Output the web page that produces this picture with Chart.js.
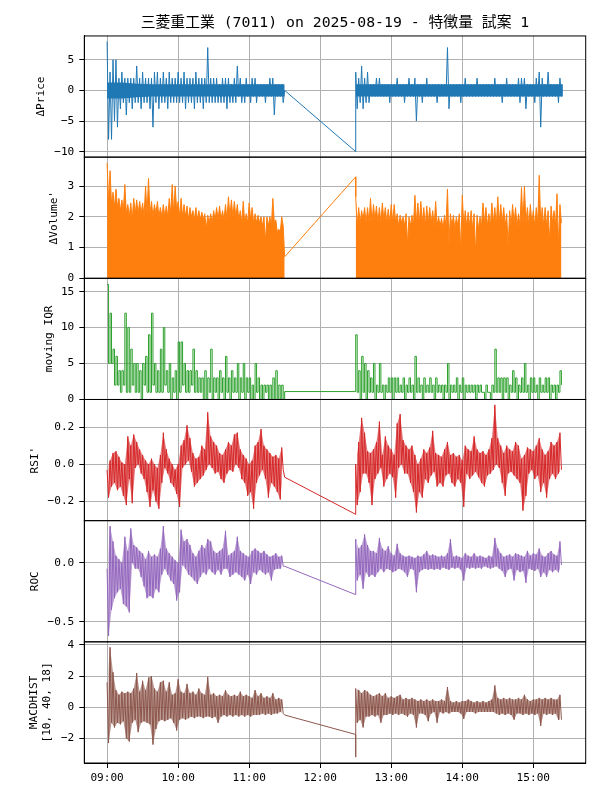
<!DOCTYPE html>
<html>
<head>
<meta charset="utf-8">
<script src="https://cdn.jsdelivr.net/npm/chart.js@4.4.1/dist/chart.umd.min.js"></script>
<style>body{margin:0;background:#fff}</style>
</head>
<body>
<canvas id="chart" width="600" height="800"></canvas>
<script>
// sessions and x tick labels
const xTickLabels = ['09:00', '10:00', '11:00', '12:00', '13:00', '14:00', '15:00'];
const sessionTimes = ['09:00', '11:30', '12:30', '15:25'];
const BIN = 2.5;        // minutes per bin, each bin gives a high and a low reading
const CORE_STEP = 12.5; // minutes between readings of the solid core of the price trace

// ΔPrice
const priceAmHi = [8,3,5,5,2,3,2,2,2,2, 4,2,3,2,2,2,3,3,2,3, 2,3,2,2,3,2,3,2,2,2, 3,2,2,2,7,2,2,2,1,2, 2,2,1,2,4,2,1,2,1,2, 2,1,1,1,1,2,2,1,1,1];
const priceAmLo = [-8,-8,-5,-6,-3,-2,-4,-2,-3,-2, -2,-3,-2,-2,-3,-6,-2,-3,-2,-2, -3,-2,-2,-2,-2,-2,-3,-2,-2,-3, -2,-2,-3,-2,-2,-2,-2,-2,-2,-2, -3,-2,-2,-2,-1,-2,-2,-1,-2,-1, -2,-1,-1,-2,-1,-1,-4,-1,-1,-2];
const priceGap = [0, -10];
const pricePmHi = [3,2,4,2,3,1,1,2,2,1, 1,1,1,1,2,1,1,1,2,1, 2,1,1,1,2,1,1,1,1,1, 1,7,1,1,1,1,1,2,1,1, 1,2,1,1,1,1,1,2,1,1, 1,2,1,1,1,2,2,2,1,1, 1,2,3,2,1,3,1,1,1,2];
const pricePmLo = [-3,-2,-3,-2,-2,-1,-1,-1,-1,-1, -1,-2,-1,-1,-1,-1,-2,-1,-1,-1, -5,-1,-2,-1,-1,-1,-1,-2,-1,-1, -1,-3,-1,-1,-1,-2,-1,-1,-1,-1, -1,-1,-1,-1,-1,-1,-1,-1,-1,-2, -1,-1,-1,-1,-1,-2,-1,-3,-1,-1, -2,-1,-6,-1,-1,-1,-1,-1,-2,-1];
const priceCoreAmHi = [1.3,1.3,1.1,1,1,1,1,1,1,1,1,1,1];
const priceCoreAmLo = [-1.3,-1.3,-1.1,-1,-1,-1,-1,-1,-1,-1,-1,-1,-1];
const priceCorePmHi = [1,1,1,1,1,1,1,1,1,1,1,1,1,1,1];
const priceCorePmLo = [-1,-1,-1,-1,-1,-1,-1,-1,-1,-1,-1,-1,-1,-1,-1];

// ΔVolume'
const volAmHi = [3.75,3.5,2.8,2.9,2.6,2.55,3.05,2.4,2.45,2.6, 2.55,2.5,2.45,3.0,3.25,2.5,2.4,2.5,2.3,2.4, 2.35,2.6,3.05,3.0,2.5,2.6,2.4,2.35,2.3,2.2, 2.3,2.2,2.15,2.1,2.05,2.1,2.2,2.3,2.35,2.2, 2.4,2.65,2.55,2.5,2.4,2.2,2.5,2.1,2.45,2.3, 2.1,2.05,2.0,2.0,2.0,2.0,2.6,1.9,1.6,2.0];
const volAmLo = [2.5,2.4,2.3,2.3,2.2,2.2,2.1,2.0,1.9,2.1, 2.1,2.1,2.0,2.1,2.1,2.0,2.1,2.0,2.0,2.0, 2.0,2.1,2.1,2.2,2.0,2.0,2.0,1.9,2.0,1.9, 1.9,1.9,1.9,1.6,1.8,1.8,1.9,1.9,1.9,1.9, 1.9,2.0,2.0,2.0,1.9,1.8,1.8,1.8,1.9,1.8, 1.8,1.8,1.7,1.2,1.7,1.7,1.8,1.5,1.5,1.7];
const volGap = [0.7, 3.3];
const volPmHi = [2.65,2.3,2.2,2.3,2.3,2.6,2.4,2.35,2.3,2.45, 2.3,2.25,2.4,2.4,2.1,2.05,2.0,2.1,2.0,2.05, 2.7,2.45,2.5,2.3,2.35,2.3,2.2,2.5,2.0,1.95, 2.05,2.9,2.1,2.05,2.0,2.1,2.7,2.2,2.15,2.2, 2.1,2.05,2.0,2.45,2.3,2.1,2.45,2.3,2.65,2.4, 2.3,2.1,2.2,2.4,2.3,2.1,2.95,3.0,2.3,2.4, 2.2,2.3,3.35,2.3,2.3,2.2,2.35,2.2,2.75,2.4];
const volPmLo = [1.7,1.8,1.9,1.8,1.8,1.8,1.9,1.8,1.8,1.9, 1.8,1.8,1.8,1.8,1.7,1.8,1.7,1.1,1.7,1.7, 1.8,1.8,1.8,1.7,1.8,1.8,1.7,1.7,1.7,1.6, 1.7,1.1,1.7,1.6,1.7,0.85,1.7,1.7,1.7,1.6, 0.8,1.6,1.7,1.8,1.7,1.7,1.8,1.7,1.8,1.8, 1.7,1.0,1.7,1.8,1.7,1.7,1.8,1.8,1.7,1.8, 1.7,1.8,1.8,1.7,1.7,1.2,1.8,1.7,1.1,1.8];

// moving IQR
const iqrAmHi = [16,12,7,6,4,4,12,10,7,5, 5,4,5,6,9,12,5,4,7,10, 4,5,3,4,8,8,5,4,4,7, 4,3,3,4,3,7,3,3,4,3, 6,3,4,3,5,3,5,3,3,2, 5,3,2,2,2,2,3,4,2,2];
const iqrAmLo = [5,5,2,2,1,2,1,1,2,1, 1,0,2,1,1,2,1,1,1,2, 1,0,1,0,1,2,1,1,2,1, 1,1,0,0,1,0,1,0,1,0, 1,0,1,1,0,1,0,1,0,0, 1,0,0,1,0,0,0,0,0,0];
const iqrGap = [1.1, 1.1];
const iqrPmHi = [9,4,6,5,4,3,5,2,5,2, 2,3,3,3,3,2,3,2,3,2, 6,3,2,3,2,3,2,3,2,2, 2,5,2,2,3,2,3,2,2,2, 2,2,2,1,2,1,2,7,3,3, 3,3,2,4,3,2,3,5,2,3, 3,2,3,2,3,3,2,2,2,4];
const iqrPmLo = [1,0,1,0,1,1,0,1,1,0, 1,1,0,1,1,1,0,1,1,0, 1,1,0,1,1,1,0,1,1,0, 1,0,1,1,0,1,0,1,1,1, 0,1,1,0,1,0,1,1,1,0, 1,0,1,1,0,1,1,1,0,1, 1,0,1,1,1,0,1,0,1,2];

// RSI'
const rsiAmHi = [-0.03,0.02,0.06,0.07,0.04,0.01,0.0,0.15,0.1,0.16, 0.12,0.08,0.05,0.02,0.0,0.03,0.0,-0.02,0.05,0.17, 0.08,0.03,0.0,-0.03,0.0,0.1,0.13,0.21,0.14,0.06, 0.03,0.04,0.1,0.08,0.28,0.15,0.12,0.1,0.06,0.05, 0.08,0.12,0.1,0.16,0.17,0.08,0.05,0.03,0.0,0.02, 0.1,0.12,0.19,0.1,0.08,0.06,0.04,0.05,0.03,0.09];
const rsiAmLo = [-0.18,-0.12,-0.1,-0.14,-0.12,-0.17,-0.22,-0.08,-0.21,-0.02, 0.0,-0.05,-0.08,-0.15,-0.23,-0.14,-0.2,-0.24,-0.1,-0.02, -0.05,-0.1,-0.12,-0.16,-0.23,-0.02,0.0,0.02,-0.04,-0.12, -0.1,-0.08,-0.06,-0.03,0.0,-0.02,-0.05,-0.04,-0.08,-0.1, -0.05,-0.03,-0.04,0.0,-0.02,-0.08,-0.1,-0.17,-0.15,-0.24, -0.1,-0.06,-0.03,-0.08,-0.18,-0.1,-0.12,-0.15,-0.19,-0.03];
const rsiGap = [-0.07, -0.27];
const rsiPmHi = [0.0,0.12,0.25,0.17,0.07,0.06,0.08,0.12,0.23,0.05, 0.15,0.1,0.08,0.05,0.22,0.27,0.13,0.1,0.08,0.1, 0.05,0.0,0.03,0.08,0.06,0.09,0.18,0.06,0.05,0.04, 0.08,0.12,0.05,0.06,0.04,0.05,0.02,0.1,0.08,0.07, 0.15,0.08,0.06,0.07,0.05,0.08,0.14,0.32,0.14,0.1, 0.06,0.1,0.08,0.07,0.12,0.1,0.03,0.05,0.09,0.08, 0.07,0.1,0.14,0.08,0.05,0.07,0.12,0.1,0.12,0.17];
const rsiPmLo = [-0.22,-0.15,-0.05,-0.05,-0.1,-0.22,-0.08,-0.05,-0.02,-0.12, -0.08,-0.05,-0.07,-0.18,-0.02,0.0,-0.05,-0.05,-0.1,-0.15, -0.26,-0.15,-0.18,-0.08,-0.1,-0.06,-0.04,-0.12,-0.1,-0.12, -0.06,-0.05,-0.1,-0.12,-0.08,-0.1,-0.23,-0.05,-0.08,-0.06, -0.04,-0.07,-0.1,-0.12,-0.06,-0.05,-0.03,0.0,-0.02,-0.1, -0.17,-0.05,-0.04,-0.06,-0.08,-0.1,-0.25,-0.17,-0.05,-0.03, -0.08,-0.06,-0.15,-0.1,-0.18,-0.08,-0.05,-0.08,-0.05,-0.03];

// ROC
const rocAmHi = [-0.05,0.31,0.18,0.06,0.03,0.0,0.22,0.1,0.29,0.15, 0.13,0.1,0.08,0.03,0.1,0.05,0.07,0.05,0.12,0.31, 0.12,0.08,0.05,0.02,0.0,0.28,0.18,0.2,0.15,0.08, 0.05,0.1,0.15,0.12,0.2,0.18,0.1,0.08,0.1,0.12, 0.27,0.06,0.08,0.1,0.22,0.1,0.08,0.06,0.05,0.1, 0.12,0.1,0.08,0.1,0.07,0.05,0.06,0.08,0.05,0.06];
const rocAmLo = [-0.62,-0.4,-0.3,-0.25,-0.22,-0.35,-0.37,-0.42,0.0,-0.05, -0.05,-0.12,-0.2,-0.3,-0.28,-0.3,-0.22,-0.25,-0.1,-0.05, -0.1,-0.15,-0.18,-0.32,-0.25,-0.02,-0.05,-0.1,-0.12,-0.15, -0.18,-0.12,-0.08,-0.1,-0.05,-0.08,-0.1,-0.06,-0.1,-0.05, -0.05,-0.12,-0.1,-0.08,-0.1,-0.12,-0.15,-0.1,-0.18,-0.08, -0.1,-0.06,-0.08,-0.1,-0.08,-0.15,-0.06,-0.05,-0.05,-0.03];
const rocGap = [-0.03, -0.27];
const rocPmHi = [0.2,0.12,0.15,0.24,0.15,0.1,0.1,0.08,0.21,0.12, 0.1,0.14,0.08,0.06,0.16,0.08,0.06,0.05,0.06,0.05, 0.04,0.06,0.05,0.07,0.1,0.06,0.07,0.06,0.05,0.06, 0.05,0.08,0.2,0.05,0.06,0.05,0.04,0.08,0.06,0.05, 0.08,0.05,0.06,0.05,0.04,0.06,0.05,0.21,0.12,0.08, 0.05,0.06,0.07,0.05,0.08,0.07,0.06,0.05,0.1,0.06, 0.08,0.07,0.12,0.06,0.05,0.08,0.1,0.07,0.06,0.18];
const rocPmLo = [-0.15,-0.1,-0.22,-0.08,-0.12,-0.1,-0.12,-0.08,-0.05,-0.08, -0.05,-0.06,-0.08,-0.07,-0.05,-0.06,-0.08,-0.12,-0.05,-0.06, -0.25,-0.08,-0.06,-0.05,-0.06,-0.05,-0.06,-0.05,-0.06,-0.04, -0.05,-0.06,-0.04,-0.05,-0.04,-0.06,-0.15,-0.04,-0.05,-0.04, -0.05,-0.04,-0.05,-0.03,-0.04,-0.05,-0.04,-0.03,-0.05,-0.07, -0.12,-0.06,-0.05,-0.15,-0.06,-0.08,-0.07,-0.17,-0.05,-0.06, -0.07,-0.05,-0.12,-0.08,-0.12,-0.06,-0.08,-0.06,-0.08,-0.02];

// MACDHIST [10, 40, 18]
const macdAmHi = [1.6,3.85,2.25,1.1,0.8,1.0,0.9,1.0,0.9,1.2, 2.2,1.0,1.7,1.1,1.9,2.0,1.2,1.0,1.6,1.7, 1.0,1.6,0.8,0.9,1.8,1.0,0.9,1.5,0.9,1.0, 0.8,1.2,0.9,0.8,1.95,0.8,0.9,0.7,0.8,0.7, 1.1,0.8,0.7,0.8,0.7,1.0,0.7,0.8,0.7,0.6, 1.1,0.7,0.9,0.6,0.7,0.6,0.9,0.5,0.6,0.5];
const macdAmLo = [-2.3,-1.0,-1.3,-1.0,-1.1,-0.9,-2.0,-2.2,-1.0,-0.8, -1.6,-1.0,-0.9,-1.0,-1.1,-2.4,-1.4,-0.9,-0.8,-0.9, -0.8,-0.7,-1.0,-1.5,-0.8,-0.7,-0.8,-0.7,-0.6,-0.7, -0.6,-0.6,-0.7,-0.6,-0.6,-0.7,-0.6,-1.0,-0.6,-0.5, -0.6,-0.5,-0.6,-0.5,-0.6,-0.5,-0.6,-0.5,-0.6,-0.5, -0.5,-0.5,-0.4,-0.5,-0.4,-0.5,-0.4,-0.4,-0.3,-0.4];
const macdGap = [-0.5, -1.75, -3.2];
const macdPmHi = [1.2,1.1,0.9,1.1,1.0,0.8,0.7,0.8,0.9,0.7, 0.9,0.6,0.7,0.6,0.7,0.8,0.5,0.6,0.5,0.6, 0.5,0.4,0.5,0.4,0.5,0.4,0.5,0.4,0.4,0.5, 0.4,1.3,0.4,0.3,0.4,0.3,0.4,0.4,0.5,0.4, 0.3,0.4,0.3,0.4,0.3,0.4,0.5,1.4,0.6,0.5, 0.6,0.5,0.6,0.5,0.5,0.6,0.5,0.8,0.5,0.4, 0.5,0.5,0.6,0.5,0.6,0.5,0.6,0.5,0.5,0.8];
const macdPmLo = [-1.0,-0.8,-1.3,-0.6,-0.6,-0.5,-0.6,-0.5,-1.0,-0.5, -0.5,-0.4,-0.5,-0.4,-0.5,-0.4,-0.5,-0.6,-0.4,-0.5, -1.3,-0.4,-0.4,-0.5,-0.9,-0.4,-0.3,-1.0,-0.3,-0.4, -0.3,-0.4,-0.3,-0.3,-0.3,-0.4,-0.75,-0.3,-0.3,-0.3, -0.4,-0.3,-0.3,-0.3,-0.3,-0.3,-0.3,-0.4,-0.5,-0.4, -0.5,-0.4,-0.5,-0.8,-0.4,-0.4,-0.5,-0.4,-0.5,-0.4, -0.5,-0.4,-1.2,-0.4,-0.5,-0.4,-0.5,-0.4,-0.8,-0.8];

// y tick values per panel
const priceTicks = [-10, -5, 0, 5];
const volTicks = [0, 1, 2, 3];
const iqrTicks = [0, 5, 10, 15];
const rsiTicks = [-0.2, 0, 0.2];
const rocTicks = [-0.5, 0];
const macdTicks = [-2, 0, 2, 4];

const FONT = "'DejaVu Sans Mono', 'Noto Sans CJK JP', monospace";
Chart.defaults.font.family = FONT;
Chart.defaults.font.size = 11.1;
Chart.defaults.color = '#000';

function toMin(s) {
    const [h, m] = s.split(':').map(Number);
    return h * 60 + m;
}
const [AM_OPEN, AM_CLOSE, PM_OPEN, PM_CLOSE] = sessionTimes.map(toMin);

// one high and one low reading per bin
function zig(t0, hi, lo) {
    const pts = [];
    hi.forEach((h, k) => {
        pts.push({x: t0 + k * BIN, y: h});
        pts.push({x: t0 + k * BIN + BIN / 2, y: lo[k]});
    });
    return pts;
}
function edge(t0, vals, shift) {
    return vals.map((v, k) => ({x: t0 + k * BIN + shift, y: v}));
}
function core(t0, vals) {
    return vals.map((v, k) => ({x: t0 + k * CORE_STEP, y: v}));
}
function tint(hex, a) {
    const n = parseInt(hex.slice(1), 16);
    return 'rgba(' + (n >> 16) + ',' + ((n >> 8) & 255) + ',' + (n & 255) + ',' + a + ')';
}

const panels = [
    {id: 'yP', title: 'ΔPrice', color: '#1f77b4', min: -10.9, max: 8.9, ticks: priceTicks, dec: 0, pad: 34.3,
        amHi: priceAmHi, amLo: priceAmLo, gap: priceGap, pmHi: pricePmHi, pmLo: pricePmLo,
        core: [priceCoreAmHi, priceCoreAmLo, priceCorePmHi, priceCorePmLo]},
    {id: 'yV', title: "ΔVolume'", color: '#ff7f0e', min: 0, max: 3.94, ticks: volTicks, dec: 0, pad: 47.6, fill: true,
        amHi: volAmHi, amLo: volAmLo, gap: volGap, pmHi: volPmHi, pmLo: volPmLo},
    {id: 'yI', title: 'moving IQR', color: '#2ca02c', min: 0, max: 16.85, ticks: iqrTicks, dec: 0, pad: 42, stepped: true,
        amHi: iqrAmHi, amLo: iqrAmLo, gap: iqrGap, pmHi: iqrPmHi, pmLo: iqrPmLo},
    {id: 'yR', title: "RSI'", color: '#d62728', min: -0.304, max: 0.349, ticks: rsiTicks, dec: 1, pad: 28.5, shade: 0.6,
        amHi: rsiAmHi, amLo: rsiAmLo, gap: rsiGap, pmHi: rsiPmHi, pmLo: rsiPmLo},
    {id: 'yO', title: 'ROC', color: '#9467bd', min: -0.669, max: 0.356, ticks: rocTicks, dec: 1, pad: 28.8, shade: 0.6,
        amHi: rocAmHi, amLo: rocAmLo, gap: rocGap, pmHi: rocPmHi, pmLo: rocPmLo},
    {id: 'yM', title: ['MACDHIST', '[10, 40, 18]'], color: '#8c564b', min: -3.58, max: 4.2, ticks: macdTicks, dec: 0, pad: 27.6, shade: 0.6,
        amHi: macdAmHi, amLo: macdAmLo, gap: macdGap, pmHi: macdPmHi, pmLo: macdPmLo}
];

const datasets = [];
panels.forEach(p => {
    const am = zig(AM_OPEN, p.amHi, p.amLo).concat([{x: AM_CLOSE, y: p.gap[0]}]);
    const pm = p.gap.slice(1).map(v => ({x: PM_OPEN, y: v})).concat(zig(PM_OPEN, p.pmHi, p.pmLo));
    const base = {yAxisID: p.id, borderColor: p.color, backgroundColor: p.color, borderWidth: 1,
        pointRadius: 0, stepped: !!p.stepped};
    if (p.fill) {
        datasets.push(Object.assign({}, base, {data: am, fill: 'origin'}));
        datasets.push(Object.assign({}, base, {data: [am[am.length - 1], pm[0]], fill: false}));
        datasets.push(Object.assign({}, base, {data: pm, fill: 'origin'}));
    } else {
        datasets.push(Object.assign({}, base, {data: am.concat(pm), fill: false}));
    }
    if (p.core) {
        // solid part of the trace, filled between its upper and lower edge
        [[AM_OPEN, p.core[0], p.core[1]], [PM_OPEN, p.core[2], p.core[3]]].forEach(([t0, hi, lo]) => {
            datasets.push(Object.assign({}, base, {data: core(t0, hi), borderWidth: 0, fill: '+1'}));
            datasets.push(Object.assign({}, base, {data: core(t0, lo), borderWidth: 0, fill: false}));
        });
    }
    if (p.shade) {
        // light shading between the bin highs and lows, where the trace is dense
        [[AM_OPEN, p.amHi, p.amLo], [PM_OPEN, p.pmHi, p.pmLo]].forEach(([t0, hi, lo]) => {
            datasets.push(Object.assign({}, base, {data: edge(t0, hi, 0), borderWidth: 0,
                backgroundColor: tint(p.color, p.shade), fill: '+1'}));
            datasets.push(Object.assign({}, base, {data: edge(t0, lo, BIN / 2), borderWidth: 0, fill: false}));
        });
    }
});

function fmt(v, dec) {
    return v.toFixed(dec).replace('-', '\u2212');
}

const scales = {
    x: {
        type: 'linear',
        min: AM_OPEN - 0.05 * (PM_CLOSE - AM_OPEN),
        max: PM_CLOSE + 0.05 * (PM_CLOSE - AM_OPEN),
        afterBuildTicks: s => { s.ticks = xTickLabels.map(l => ({value: toMin(l)})); },
        afterFit: s => { s.height = 37; },
        ticks: {autoSkip: false, maxRotation: 0, padding: 3.5,
            callback: v => xTickLabels.find(l => toMin(l) === v)},
        grid: {color: '#b0b0b0', tickColor: '#000', tickLength: 5},
        border: {color: '#000'}
    }
};
panels.forEach((p, i) => {
    scales[p.id] = {
        type: 'linear',
        position: 'left',
        stack: 'panels',
        stackWeight: 1,
        weight: panels.length - i,
        min: p.min,
        max: p.max,
        afterBuildTicks: s => { s.ticks = p.ticks.map(v => ({value: v})); },
        afterFit: s => { s.width = 84.3; },
        ticks: {autoSkip: false, padding: 5, callback: v => fmt(v, p.dec)},
        grid: {color: '#b0b0b0', tickColor: '#000', tickLength: 5},
        border: {color: '#000'},
        title: {display: true, text: p.title, padding: {top: p.pad, bottom: 0}}
    };
});

// black frame round every panel
const frame = {
    id: 'frame',
    afterDatasetsDraw(chart) {
        const {ctx, chartArea} = chart;
        ctx.save();
        ctx.strokeStyle = '#000';
        ctx.lineWidth = 1;
        panels.forEach(p => {
            const s = chart.scales[p.id];
            ctx.strokeRect(chartArea.left, s.top, chartArea.right - chartArea.left, s.bottom - s.top);
        });
        ctx.restore();
    }
};

new Chart(document.getElementById('chart'), {
    type: 'line',
    data: {datasets: datasets},
    options: {
        responsive: false,
        animation: false,
        layout: {padding: {left: 0, right: 14.3, top: 0, bottom: 0}},
        scales: scales,
        plugins: {
            legend: {display: false},
            tooltip: {enabled: false},
            title: {
                display: true,
                fullSize: false,
                text: '三菱重工業 (7011) on 2025-08-19 - 特徴量 試案 1',
                font: {size: 14.8, weight: 'normal'},
                color: '#000',
                padding: {top: 14, bottom: 4.2}
            }
        }
    },
    plugins: [frame]
});
</script>
</body>
</html>
